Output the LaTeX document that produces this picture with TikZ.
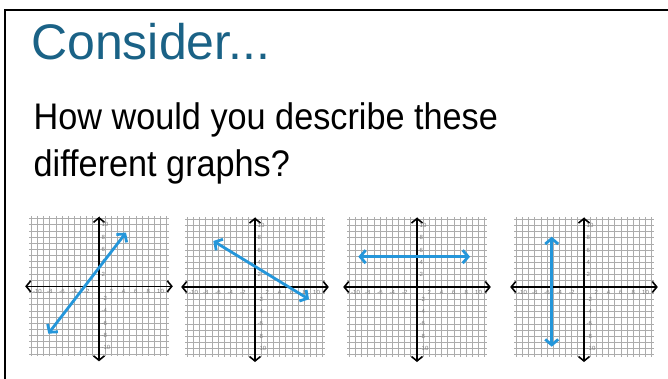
\documentclass[tikz,border=0pt]{standalone}
\usepackage{fontspec}
\usepackage{graphicx}
\setmainfont{Liberation Sans}
\usetikzlibrary{arrows.meta}
\definecolor{titleblue}{RGB}{26,98,134}
\definecolor{lineblue}{RGB}{36,150,218}
\definecolor{gridgray}{RGB}{172,172,172}
\definecolor{labelgray}{RGB}{120,120,120}
\tikzset{
  gridline/.style={gridgray, line width=0.8pt},
  axisline/.style={black, line width=1.6pt, {Straight Barb[length=4.5pt,width=11pt]}-{Straight Barb[length=4.5pt,width=11pt]}},
  bluearrow/.style={lineblue, line width=2.8pt, {Straight Barb[length=5.5pt,width=13pt]}-{Straight Barb[length=5.5pt,width=13pt]}},
  ticklabel/.style={labelgray, font=\fontsize{6}{6}\selectfont, inner sep=0pt},
  frameline/.style={black, line width=2.3pt},
}
\newcommand\coordgrid[1]{%
  \foreach \i in {-11,...,11} {
    \draw[gridline] (\i,-11.35) -- (\i,11.35);
    \draw[gridline] (-11.35,\i) -- (11.35,\i);
  }
  \coordinate (#1xl) at (-12,0);
  \coordinate (#1xr) at (12,0);
  \coordinate (#1yb) at (0,-12.2);
  \coordinate (#1yt) at (0,11.3);
  \draw[axisline] (#1xl) -- (#1xr);
  \draw[axisline] (#1yb) -- (#1yt);
  \foreach \v [count=\k] in {-10,-8,-6,-4,-2,2,4,6,8,10} {
    \node[ticklabel, anchor=north] (#1xlab\k) at (\v,-0.45) {\v};
    \node[ticklabel, anchor=west] (#1ylab\k) at (0.4,\v) {\v};
  }
}
\begin{document}
\begin{tikzpicture}[x=1pt,y=-1pt]
\useasboundingbox (0,0) rectangle (668,379);
\clip (0,0) rectangle (668,379);
\fill[white] (0,0) rectangle (668,379);
\coordinate (fb) at (5,390);
\coordinate (ftl) at (5,10);
\coordinate (ftr) at (680,10);
\draw[frameline] (fb) -- (ftl) -- (ftr);

\node[anchor=base west, inner sep=0pt, text=titleblue, font=\fontsize{50}{56}\selectfont] (title) at (31,59.5) {Consider...};
\node[anchor=base west, inner sep=0pt, font=\fontsize{37}{44}\selectfont] (line1) at (33.5,130) {\scalebox{0.925}[1]{How would you describe these}};
\node[anchor=base west, inner sep=0pt, font=\fontsize{37}{44}\selectfont] (line2) at (33.5,176.5) {\scalebox{0.925}[1]{different graphs?}};

\begin{scope}[shift={(99pt,-286.3pt)}, x=6.15pt, y=6.15pt]
  \coordgrid{a}
  \coordinate (a1) at (-8.24,-7.7);
  \coordinate (a2) at (4.39,8.73);
  \draw[bluearrow] (a1) -- (a2);
\end{scope}
\begin{scope}[shift={(255pt,-287pt)}, x=6.15pt, y=6.15pt]
  \coordgrid{b}
  \coordinate (b1) at (-6.78,7.48);
  \coordinate (b2) at (8.78,-2.0);
  \draw[bluearrow] (b1) -- (b2);
\end{scope}
\begin{scope}[shift={(417pt,-287pt)}, x=6.15pt, y=6.15pt]
  \coordgrid{c}
  \coordinate (c1) at (-9.54,4.93);
  \coordinate (c2) at (8.62,4.93);
  \draw[bluearrow] (c1) -- (c2);
\end{scope}
\begin{scope}[shift={(584pt,-287pt)}, x=6.15pt, y=6.15pt]
  \coordgrid{d}
  \coordinate (d1) at (-5.25,8.18);
  \coordinate (d2) at (-5.25,-9.71);
  \draw[bluearrow] (d1) -- (d2);
\end{scope}
\end{tikzpicture}
\end{document}
